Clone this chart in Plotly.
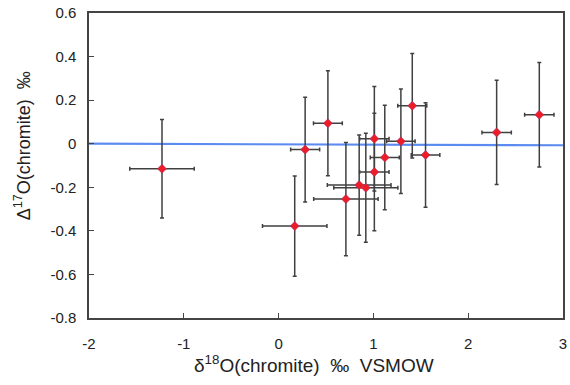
import plotly.graph_objects as go

# Data
d18O = [-1.23, 0.17, 0.28, 0.52, 0.71, 0.85, 0.92, 1.01, 1.01, 1.12, 1.29, 1.41, 1.55, 2.30, 2.75]
d18O_err = [0.34, 0.34, 0.153, 0.152, 0.34, 0.336, 0.338, 0.155, 0.155, 0.153, 0.15, 0.153, 0.151, 0.155, 0.155]
D17O = [-0.115, -0.378, -0.027, 0.094, -0.254, -0.19, -0.202, 0.023, -0.13, -0.063, 0.011, 0.174, -0.052, 0.052, 0.133]
D17O_err = [0.226, 0.23, 0.24, 0.241, 0.26, 0.23, 0.25, 0.24, 0.27, 0.24, 0.24, 0.24, 0.24, 0.239, 0.24]

fit_x = [-2, 3]
fit_y = [0.0, -0.007]

x_ticks = [-2, -1, 0, 1, 2, 3]
x_ticktext = ["-2", "-1", "0", "1", "2", "3"]
y_ticks = [0.6, 0.4, 0.2, 0, -0.2, -0.4, -0.6, -0.8]
y_ticktext = ["0.6", "0.4", "0.2", "0", "-0.2", "-0.4", "-0.6", "-0.8"]

FONT = "Liberation Sans, Arial, sans-serif"

fig = go.Figure()
fig.add_trace(go.Scatter(
    x=fit_x, y=fit_y, mode="lines",
    line=dict(color="#5b8bf0", width=2.2), showlegend=False, hoverinfo="skip"))
fig.add_trace(go.Scatter(
    x=d18O, y=D17O, mode="markers",
    error_x=dict(type="data", array=d18O_err, color="#404040", thickness=1.5, width=2),
    error_y=dict(type="data", array=D17O_err, color="#404040", thickness=1.5, width=2),
    marker=dict(symbol="diamond", size=7, color="#ee1c24",
                line=dict(color="#8a3a8a", width=0.5)),
    showlegend=False))

axis_common = dict(showgrid=False, zeroline=False, showline=True, mirror=True,
                   linecolor="#444444", linewidth=1.5, ticks="inside", ticklen=5,
                   tickcolor="#444444", tickwidth=1, automargin=False,
                   tickfont=dict(family=FONT, size=15, color="#222222"))

fig.update_xaxes(range=[-2, 3], tickvals=x_ticks, ticktext=x_ticktext,
                 ticklabelstandoff=11, **axis_common)
fig.update_yaxes(range=[-0.8, 0.6], tickvals=y_ticks, ticktext=y_ticktext,
                 ticklabelstandoff=8, **axis_common)

fig.add_annotation(text="δ<sup>18</sup>O(chromite)  ‰  VSMOW", xref="paper", yref="paper",
                   x=0.475, y=-0.151, showarrow=False, xanchor="center", yanchor="middle",
                   font=dict(family=FONT, size=19, color="#222222"))
fig.add_annotation(text="Δ<sup>17</sup>O(chromite)  ‰", xref="paper", yref="paper",
                   x=-0.14, y=0.565, showarrow=False, xanchor="center", yanchor="middle",
                   textangle=-90, font=dict(family=FONT, size=18, color="#222222"))

fig.update_layout(width=570, height=385, margin=dict(l=89, r=7, t=13, b=67),
                  plot_bgcolor="white", paper_bgcolor="white")

fig.write_html("out.html", config={"displayModeBar": False},
               post_script="document.body.style.margin='0';document.body.style.overflow='hidden';")
